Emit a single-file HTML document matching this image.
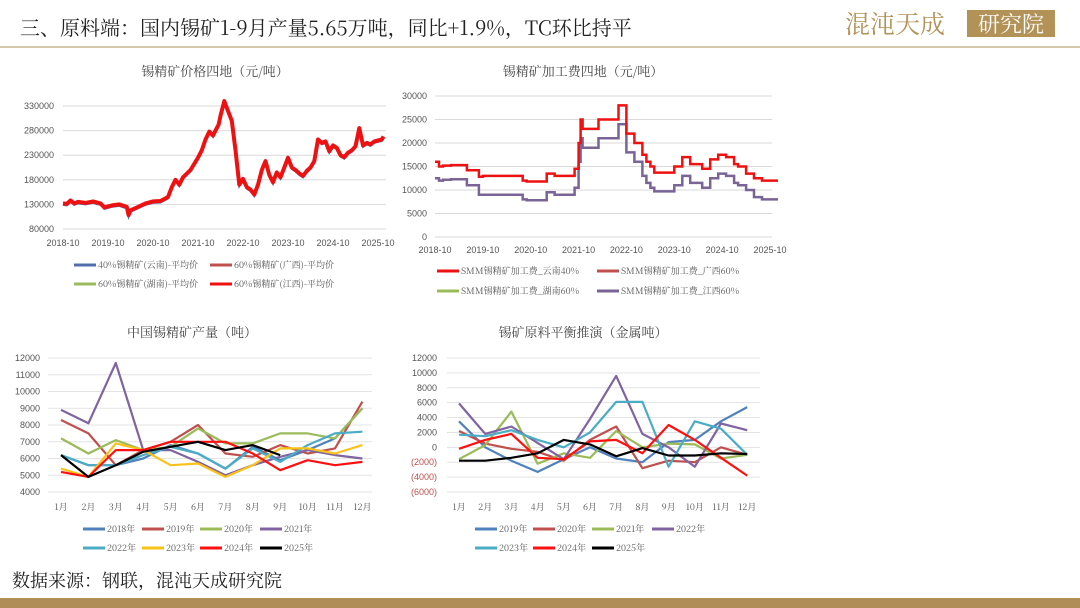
<!DOCTYPE html>
<html><head><meta charset="utf-8">
<style>
html,body{margin:0;padding:0;background:#fff;}
svg{display:block;font-family:"Liberation Sans","Noto Sans CJK SC",sans-serif;}
</style></head>
<body>
<svg id="s" width="1080" height="608" viewBox="0 0 1080 608" xmlns="http://www.w3.org/2000/svg">
<text x="20" y="35" font-size="20" fill="#222" font-family="'Noto Serif CJK SC','Noto Sans CJK SC',serif">三、原料端：国内锡矿1-9月产量5.65万吨，同比+1.9%，TC环比持平</text>
<g>
<text x="845" y="33" font-size="25" fill="#b39258" font-family="'Noto Serif CJK SC',serif">混沌天成</text>
<rect x="967" y="10" width="88" height="27" fill="#b39258"/>
<text x="1011" y="32" font-size="22" fill="#fff" text-anchor="middle" font-family="'Noto Serif CJK SC',serif">研究院</text>
</g>
<line x1="0" y1="47" x2="1080" y2="47" stroke="#c9b58d" stroke-width="1.5"/>
<text x="12" y="587" font-size="18" fill="#222" font-family="'Noto Serif CJK SC','Noto Sans CJK SC',serif">数据来源：钢联，混沌天成研究院</text>
<rect x="0" y="598" width="1080" height="10" fill="#b08d57"/>
<g id="g1"></g>
<g id="g2"></g>
<g id="g3"></g>
<g id="g4"></g>
</svg>
<script>
// ---- chart 1 data: month offset from 2018-10, price
const priceMonths=[0,1,2,3,4,6,8,10,11,12,13,15,17,17.5,18,20,22,24,26,28,29,30,31,32,34,36,37,38,39,40,41,41.5,42,43,44,45,46,47,48,49,50,51,52,53,54,55,56,57,58,59,60,61,62,63,64,65,66,67,68,69,70,71,72,73,74,75,76,77,78,79,80,81,82,83,84,85,85.5];
const priceVals=[132000,131000,138000,132000,135000,133000,136000,132000,124000,126000,128000,130000,125000,108000,118000,125000,132000,136000,137000,145000,165000,180000,170000,185000,200000,225000,240000,262000,278000,270000,285000,292000,310000,340000,320000,300000,240000,170000,182000,165000,160000,150000,170000,200000,218000,190000,175000,195000,185000,205000,225000,205000,200000,193000,188000,198000,205000,218000,262000,255000,258000,238000,250000,245000,230000,226000,235000,240000,248000,285000,250000,255000,252000,258000,260000,262000,268000,275000,290000,320000];
const priceTicks=[80000,130000,180000,230000,280000,330000];
const dateLabels=['2018-10','2019-10','2020-10','2021-10','2022-10','2023-10','2024-10','2025-10'];
// ---- chart 2 data (step series)
const feeMonths=[0,1,2,4,8,11,12,14,17,22,23,26,28,30,33,35,36,36.5,37,38,41,44,46,48,50,52,53,54,55,56,59,60,62,64,67,68,69,71,73,75,76,78,80,82,86];
const feeRed=[16000,15000,15200,15300,14200,12800,13000,13000,13000,12000,11800,11800,13500,13000,13000,14500,20000,25000,23000,23000,25000,25000,28000,22000,20000,17500,16000,15000,13700,13700,13700,15000,17000,15500,14500,14500,16500,17500,17000,15500,15000,13500,12500,12000,12000];
const feePurple=[12500,12000,12200,12300,11000,9000,9000,9000,9000,8000,7800,7800,9500,9000,9000,10500,16000,21000,19000,19000,21000,21000,24000,18000,16000,13000,11500,10500,9700,9700,9700,11000,13000,11500,10500,10500,12500,13500,13000,11500,11000,10000,8500,8000,8000];
const feeTicks=[0,5000,10000,15000,20000,25000,30000];
// ---- chart 3 data
const monthsCN=['1月','2月','3月','4月','5月','6月','7月','8月','9月','10月','11月','12月'];
const out2018=[6200,5600,5600,6000,6800,6300,5400,6700,5900,6500,7200,9000];
const out2019=[8300,7500,5600,6500,7000,8000,6300,6100,6800,6300,6600,9400];
const out2020=[7200,6300,7100,6500,6700,7800,6900,6900,7500,7500,7200,9000];
const out2021=[8900,8100,11700,6500,6500,5800,5000,5600,6100,6500,6200,6000];
const out2022=[6200,5600,5600,6200,6700,6300,5400,6600,5800,6800,7500,7600];
const out2023=[5400,4900,6900,6500,5600,5700,4900,5600,6600,6600,6300,6800];
const out2024=[5200,4900,6500,6500,7000,7000,7000,6300,5300,5900,5600,5800];
const out2025=[6200,4900,5600,6400,6700,7000,6500,6800,6200];
const outTicks=[4000,5000,6000,7000,8000,9000,10000,11000,12000];
// ---- chart 4 data
const bal2019=[3500,0,-1800,-3300,-1600,0,-1500,-2000,700,1000,3500,5400];
const bal2020=[2200,500,-200,-600,-1800,1000,2800,-2800,-1800,-2000,0,-1000];
const bal2021=[-1600,300,4800,-2200,-800,-1400,2200,0,500,400,-1500,-1000];
const bal2022=[5900,1800,2800,600,-1600,3800,9600,1800,0,-2600,3200,2300];
const bal2023=[1700,1500,2300,1000,0,2000,6100,6100,-2600,3500,2500,-1000];
const bal2024=[-200,1000,1800,-1400,-1600,800,1000,-800,3000,1000,-1400,-3800];
const bal2025=[-1800,-1800,-1400,-800,1000,400,-1200,-100,-1100,-1100,-800,-900];
const balTicks=[-6000,-4000,-2000,0,2000,4000,6000,8000,10000,12000];

const NS='http://www.w3.org/2000/svg';
function mk(parent,tag,attrs,txt){const e=document.createElementNS(NS,tag);for(const k in attrs)e.setAttribute(k,attrs[k]);if(txt!==undefined)e.textContent=txt;parent.appendChild(e);return e;}
const F="'Noto Serif CJK SC','Noto Sans CJK SC',serif";

// ===== chart 1
(function(){
const g=document.getElementById('g1');
const x=m=>63+m*(315/84), y=v=>229-(v-80000)*(123/250000);
let t=mk(g,'text',{x:215,y:76,'font-size':13,fill:'#444','text-anchor':'middle','font-family':F},'锡精矿价格四地（元/吨）');


priceTicks.forEach(v=>{
 let l=mk(g,'line',{x1:63,x2:386,y1:y(v),y2:y(v),stroke:'#d9d9d9','stroke-width':1});
 
 
 let tt=mk(g,'text',{x:54,y:y(v)+3,'font-size':9,fill:'#555','text-anchor':'end'},String(v));
 
 
});
dateLabels.forEach((d,i)=>{
 let tt=mk(g,'text',{x:x(i*12),y:246,'font-size':9,fill:'#555','text-anchor':'middle'},d);
 
 
});
const pts=priceMonths.map((m,i)=>x(m).toFixed(1)+','+y(priceVals[i]).toFixed(1)).join(' ');
let b=mk(g,'polyline',{points:pts,fill:'none',stroke:'#4f6fae','stroke-width':2,transform:'translate(0,1.5)'});


let r=mk(g,'polyline',{points:pts,fill:'none',stroke:'#ee1111','stroke-width':4,'stroke-linejoin':'round'});


const leg=[[74,265,'#4f6fae','40%锡精矿(云南)-平均价'],[210,265,'#c0504d','60%锡精矿(广西)-平均价'],[74,284,'#9bbb59','60%锡精矿(湖南)-平均价'],[210,284,'#ee1111','60%锡精矿(江西)-平均价']];
leg.forEach(L=>{
 let l=mk(g,'line',{x1:L[0],x2:L[0]+22,y1:L[1],y2:L[1],stroke:L[2],'stroke-width':3});
 
 
 let tt=mk(g,'text',{x:L[0]+24,y:L[1]+3,'font-size':9,fill:'#555','font-family':F},L[3]);
 
 
});
})();

// ===== chart 2
(function(){
const g=document.getElementById('g2');
const x=m=>435+m*(335/84), y=v=>237-v*(141/30000);
let t=mk(g,'text',{x:583,y:76,'font-size':13,fill:'#444','text-anchor':'middle','font-family':F},'锡精矿加工费四地（元/吨）');


feeTicks.forEach(v=>{
 let l=mk(g,'line',{x1:435,x2:772,y1:y(v),y2:y(v),stroke:'#d9d9d9','stroke-width':1});
 
 
 let tt=mk(g,'text',{x:427,y:y(v)+3,'font-size':9,fill:'#555','text-anchor':'end'},String(v));
 
 
});
dateLabels.forEach((d,i)=>{
 let tt=mk(g,'text',{x:x(i*12),y:253,'font-size':9,fill:'#555','text-anchor':'middle'},d);
 
 
});
function step(vals){let p=[];feeMonths.forEach((m,i)=>{if(i>0)p.push(x(m).toFixed(1)+','+y(vals[i-1]).toFixed(1));p.push(x(m).toFixed(1)+','+y(vals[i]).toFixed(1));});return p.join(' ');}
let pp=mk(g,'polyline',{points:step(feePurple),fill:'none',stroke:'#7a6496','stroke-width':2.5});


let rr=mk(g,'polyline',{points:step(feeRed),fill:'none',stroke:'#ee1111','stroke-width':2.5});


const leg=[[437,271,'#ee1111','SMM锡精矿加工费_云南40%'],[597,271,'#c0504d','SMM锡精矿加工费_广西60%'],[437,291,'#9bbb59','SMM锡精矿加工费_湖南60%'],[597,291,'#7a6496','SMM锡精矿加工费_江西60%']];
leg.forEach(L=>{
 let l=mk(g,'line',{x1:L[0],x2:L[0]+22,y1:L[1],y2:L[1],stroke:L[2],'stroke-width':3});
 
 
 let tt=mk(g,'text',{x:L[0]+24,y:L[1]+3,'font-size':9,fill:'#555','font-family':F},L[3]);
 
 
});
})();

// ===== line chart helper for charts 3 and 4
function lineChart(gid,o){
const g=document.getElementById(gid);
const x=i=>o.x0+i*o.dx, y=v=>o.yTop+(o.vMax-v)*(o.yBot-o.yTop)/(o.vMax-o.vMin);
let t=mk(g,'text',{x:o.tx,y:337,'font-size':13,fill:'#444','text-anchor':'middle','font-family':F},o.title);


o.ticks.forEach(v=>{
 let l=mk(g,'line',{x1:o.gx0,x2:o.gx1,y1:y(v),y2:y(v),stroke:'#e3e3e3','stroke-width':1});
 
 
 const neg=v<0;
 let tt=mk(g,'text',{x:o.lx,y:y(v)+3,'font-size':9,fill:neg?'#c0504d':'#555','text-anchor':'end'},neg?'('+(-v)+')':String(v));
 
 
});
monthsCN.forEach((m,i)=>{
 let tt=mk(g,'text',{x:x(i),y:510,'font-size':9,fill:'#555','text-anchor':'middle','font-family':F},m);
 
 
});
o.series.forEach(s=>{
 let p=mk(g,'polyline',{points:s.v.map((v,i)=>x(i).toFixed(1)+','+y(v).toFixed(1)).join(' '),fill:'none',stroke:s.c,'stroke-width':2.2,'stroke-linejoin':'round'});
 
 
});
o.series.forEach((s,i)=>{
 const lx=o.legX[i%4], ly=i<4?529:548;
 let l=mk(g,'line',{x1:lx,x2:lx+22,y1:ly,y2:ly,stroke:s.c,'stroke-width':3});
 
 
 let tt=mk(g,'text',{x:lx+24,y:ly+3,'font-size':9,fill:'#555','font-family':F},s.n+'年');
 
 
});
}
lineChart('g3',{title:'中国锡精矿产量（吨）',tx:192,x0:61,dx:27.4,yTop:358,yBot:492,vMin:4000,vMax:12000,ticks:outTicks,gx0:48,gx1:372,lx:40,legX:[83,142,200,260],
 series:[{n:'2018',c:'#4f81bd',v:out2018},{n:'2019',c:'#c0504d',v:out2019},{n:'2020',c:'#9bbb59',v:out2020},{n:'2021',c:'#8064a2',v:out2021},{n:'2022',c:'#4bacc6',v:out2022},{n:'2023',c:'#f9c21a',v:out2023},{n:'2024',c:'#ff1010',v:out2024},{n:'2025',c:'#000',v:out2025}]});
lineChart('g4',{title:'锡矿原料平衡推演（金属吨）',tx:583,x0:459,dx:26.2,yTop:358,yBot:492,vMin:-6000,vMax:12000,ticks:balTicks,gx0:447,gx1:760,lx:437,legX:[475,533,592,652],
 series:[{n:'2019',c:'#4f81bd',v:bal2019},{n:'2020',c:'#c0504d',v:bal2020},{n:'2021',c:'#9bbb59',v:bal2021},{n:'2022',c:'#8064a2',v:bal2022},{n:'2023',c:'#4bacc6',v:bal2023},{n:'2024',c:'#ff1010',v:bal2024},{n:'2025',c:'#000',v:bal2025}]});
</script>
</body></html>
